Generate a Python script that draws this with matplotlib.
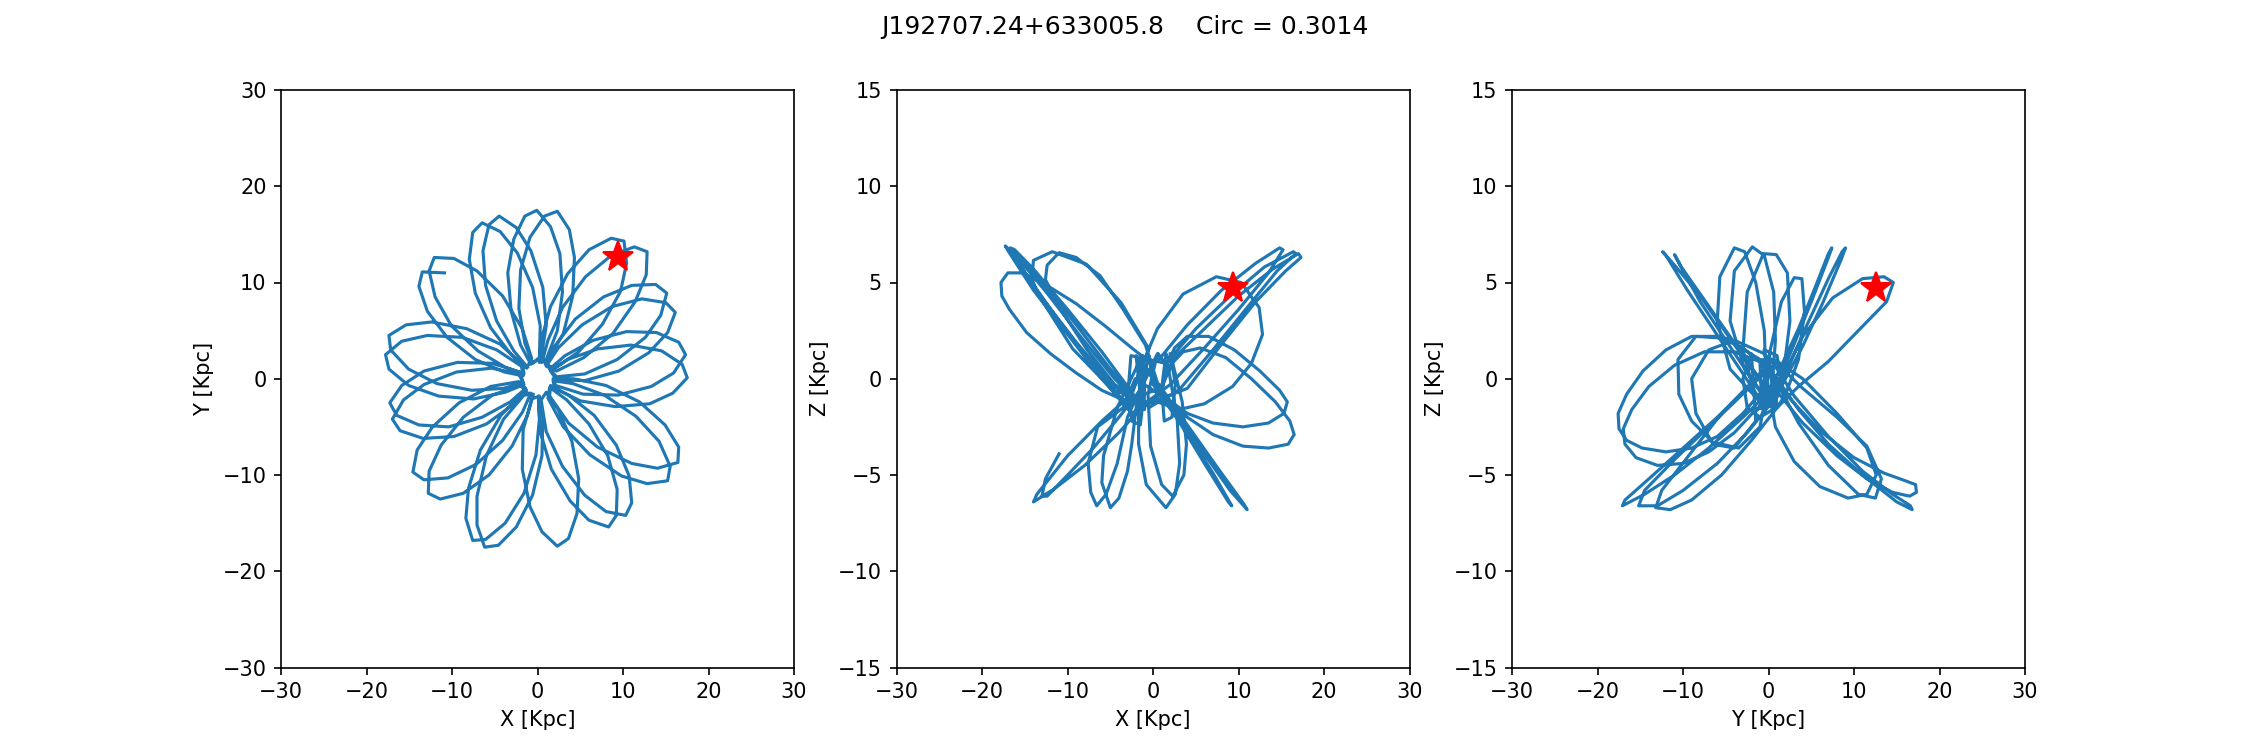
import matplotlib.pyplot as plt

name = 'J192707.24+633005.8'
circ = 0.3014

# position of the star (now)
star_x, star_y, star_z = 9.4, 12.6, 4.7

# orbit seen in X-Y, petal by petal (Kpc)
xy_x = [-10.9, -13.5, -13.9, -12.9, -10.6, -7.3, -3.9, -1.7,
        -1.9, -4.8, -8.8, -12.9, -15.9, -17.8, -17.4, -15.1, -11.6, -7.5, -3.8, -1.6,
        -2.2, -5.4, -9.5, -13.3, -15.7, -17.0, -16.1, -13.4, -9.8, -6.0, -2.9, -1.3,
        -2.1, -5.3, -8.7, -11.3, -12.7, -12.8, -11.4, -8.7, -5.7, -3.0, -1.2, -0.5,
        -1.6, -4.0, -6.0, -7.1, -7.1, -6.2, -4.6, -2.5, -0.6, 0.5, 0.6, 0.2,
        -0.7, -1.7, -1.8, -0.9, 0.5, 2.3, 3.6, 4.6, 4.8, 4.0, 2.4, 1.0,
        0.4, 1.0, 2.9, 5.5, 8.0, 10.3, 11.0, 10.7, 9.2, 6.6, 3.6, 1.5,
        1.4, 3.6, 7.0, 11.0, 14.0, 16.4, 16.5, 14.9, 11.9, 8.0, 4.2, 1.8,
        2.1, 5.3, 9.4, 13.3, 15.9, 17.3, 16.5, 13.9, 10.4, 6.5, 3.2, 1.4,
        2.2, 5.5, 9.3, 12.6, 14.4, 15.1, 13.8, 11.0, 7.7, 4.4, 2.0, 0.9,
        2.0, 4.8, 7.6, 9.7, 10.4, 10.1, 8.6, 6.0, 3.5, 1.5, 0.4, 0.2,
        1.0, 2.3, 2.9, 2.6, 1.5, -0.1, -1.5, -2.8, -3.5, -3.1, -2.0, -0.8,
        0.2, 0.3, -0.6, -2.4, -4.4, -6.5, -7.6, -8.0, -7.3, -5.5, -3.1, -1.3,
        -0.7, -1.8, -4.1, -7.1, -9.8, -12.1, -12.7, -12.0, -10.1, -7.0, -3.8, -1.6,
        -1.8, -4.4, -8.3, -12.4, -15.4, -17.4, -17.2, -15.1, -11.8, -7.7, -4.0, -1.7,
        -2.1, -5.3, -9.4, -13.3, -15.9, -17.3, -16.5, -13.9, -10.4, -6.5, -3.2, -1.4,
        -2.2, -5.5, -9.2, -12.3, -14.1, -14.6, -13.3, -10.5, -7.2, -4.1, -1.8, -0.8,
        -1.8, -4.3, -6.7, -8.1, -8.4, -7.6, -6.1, -3.8, -1.6, -0.2, 0.2, 0.1,
        0.1, 0.3, 1.6, 3.8, 6.0, 8.3, 9.2, 9.3, 8.2, 6.0, 3.4, 1.4,
        1.2, 3.0, 6.1, 9.8, 12.8, 15.2, 15.5, 14.2, 11.5, 7.8, 4.1, 1.8,
        2.0, 5.0, 9.1, 13.1, 15.8, 17.5, 16.9, 14.5, 10.9, 7.0, 3.5, 1.5,
        2.2, 5.5, 9.5, 13.0, 15.2, 16.1, 15.0, 12.2, 8.7, 5.2, 2.4, 1.0,
        2.2, 5.4, 8.8, 11.4, 12.7, 12.8, 11.3, 8.6, 5.6, 2.9, 1.2, 0.5,
        1.2, 3.0, 4.1, 4.3, 3.7, 2.3, 0.8, -0.9, -2.0, -2.2, -1.5, -0.6,
        0.4, 1.0, 0.6, -0.8, -2.5, -4.5, -5.7, -6.4, -6.1, -4.8, -2.8, -1.2]
xy_y = [11.0, 11.1, 9.6, 7.0, 4.3, 2.0, 0.7, 0.3,
        1.3, 3.0, 4.3, 4.5, 3.9, 2.5, 1.0, -0.7, -1.8, -2.1, -1.4, -0.6,
        0.5, 1.1, 0.7, -0.6, -2.2, -4.2, -5.4, -6.2, -6.0, -4.7, -2.7, -1.2,
        -0.7, -1.7, -4.0, -6.9, -9.6, -11.9, -12.5, -11.9, -10.0, -7.0, -3.8, -1.6,
        -1.7, -4.2, -8.0, -12.2, -15.2, -17.5, -17.3, -15.4, -12.1, -8.0, -4.1, -1.8,
        -2.1, -5.3, -9.4, -13.3, -15.9, -17.4, -16.6, -14.0, -10.4, -6.5, -3.2, -1.4,
        -2.2, -5.5, -9.1, -12.1, -13.8, -14.2, -12.9, -10.1, -6.9, -3.8, -1.7, -0.7,
        -1.8, -4.6, -7.1, -8.8, -9.3, -8.7, -7.1, -4.8, -2.4, -0.7, 0.0, 0.0,
        -0.7, -1.6, -1.7, -0.8, 0.6, 2.5, 3.8, 4.8, 4.9, 4.0, 2.4, 1.0,
        0.2, 0.5, 2.0, 4.3, 6.6, 8.9, 9.8, 9.7, 8.5, 6.2, 3.4, 1.5,
        1.1, 2.8, 5.7, 9.1, 12.0, 14.3, 14.6, 13.4, 10.9, 7.5, 4.0, 1.7,
        2.0, 5.0, 9.0, 13.0, 15.8, 17.5, 16.9, 14.5, 11.0, 7.0, 3.5, 1.5,
        2.2, 5.5, 9.5, 13.1, 15.3, 16.2, 15.2, 12.4, 8.9, 5.3, 2.5, 1.1,
        2.1, 5.2, 8.6, 11.2, 12.5, 12.6, 11.2, 8.5, 5.5, 2.9, 1.2, 0.5,
        1.5, 3.6, 5.2, 5.9, 5.6, 4.5, 3.0, 1.0, -0.5, -1.2, -1.0, -0.4,
        0.7, 1.6, 1.7, 0.8, -0.7, -2.5, -3.8, -4.8, -5.0, -4.0, -2.4, -1.0,
        -0.3, -0.8, -2.5, -5.0, -7.4, -9.7, -10.5, -10.3, -8.9, -6.4, -3.5, -1.5,
        -1.5, -3.8, -7.4, -11.4, -14.5, -16.8, -16.7, -15.0, -11.9, -7.9, -4.2, -1.8,
        -2.2, -5.5, -9.4, -12.7, -14.7, -15.4, -14.2, -11.5, -8.0, -4.7, -2.2, -0.9,
        -2.0, -5.0, -7.9, -10.1, -10.9, -10.6, -9.1, -6.5, -3.9, -1.7, -0.5, -0.2,
        -1.0, -2.3, -2.9, -2.6, -1.5, 0.1, 1.5, 2.9, 3.5, 3.1, 2.0, 0.8,
        -0.1, -0.2, 0.8, 2.7, 4.8, 6.9, 7.9, 8.3, 7.5, 5.6, 3.2, 1.3,
        0.8, 2.2, 4.7, 8.0, 10.8, 13.2, 13.7, 12.8, 10.6, 7.4, 4.0, 1.7,
        1.9, 4.7, 8.6, 12.6, 15.5, 17.4, 16.9, 14.7, 11.3, 7.3, 3.7, 1.6,
        2.2, 5.5, 9.5, 13.3, 15.7, 16.9, 16.0, 13.3, 9.7, 6.0, 2.9, 1.2]

# orbit seen in X-Z
xz_x = [-11.0, -12.6, -13.0, -12.4, -10.0, -7.0, -4.0, -1.5,
        -1.5, -5.0, -9.0, -13.0, -16.0, -17.3, -16.9, -14.0, -10.0, -6.0, -2.5,
        1.0, 1.5, 2.5, 4.0, 6.5, 9.5, 12.5, 14.8, 15.7, 15.3, 13.5, 10.5, 7.0, 4.0, 1.8,
        -2.1, -3.5, -6.5, -7.6, -7.3, -6.6, -5.5, -4.2, -3.0, -1.5,
        -1.0, 2.0, 6.0, 10.0, 13.5, 15.2, 14.8, 12.0, 8.0, 4.0, 0.5,
        -0.5, -2.5, -5.5, -9.0, -12.6, -15.3, -17.0, -17.8, -17.7, -16.8, -14.8, -12.0, -9.0, -6.0, -3.5, -1.5,
        -2.0, 1.0, 4.0, 7.0, 9.2, 8.8, 6.0, 3.0, 0.0,
        -0.5, -1.7, -1.7, -0.8, 1.5, 2.6, 3.1, 2.8, 1.8, 0.6,
        -2.0, -6.0, -10.0, -14.0, -16.2, -16.7, -15.0, -11.0, -7.0, -3.0,
        -1.5, 0.5, 3.5, 7.4, 10.3, 12.4, 12.8, 11.5, 9.3, 6.0, 3.0, 0.5,
        -1.0, -4.0, -8.0, -11.5, -14.0, -13.6, -10.0, -6.0, -2.5,
        -0.5, -3.75, -7.8, -11.8, -14.0, -14.2, -13.4, -9.4, -4.6, -1.8,
        1.0, 2.0, 3.5, 5.5, 8.5, 11.5, 14.3, 16.0, 16.5, 15.8, 13.5, 10.5, 7.0, 4.0, 1.5,
        -1.5, -4.2, -5.8, -6.0, -5.0, -4.0, -3.0, -2.5, -1.8,
        -0.5, 3.0, 7.0, 11.0, 14.5, 16.7, 16.4, 13.0, 9.0, 5.0, 1.5,
        -2.6, -2.9, -2.5, -1.5, -1.0, -1.2,
        -1.0, -4.5, -8.5, -12.5, -15.5, -16.8, -16.3, -13.0, -9.0, -5.0, -1.5,
        -1.5, 2.0, 5.5, 9.0, 11.0, 10.6, 7.5, 4.0, 0.5,
        -0.9, -3.5, -6.2, -9.0, -11.0, -12.4, -12.6, -10.5, -7.8, -4.5, -2.0,
        0.5, -0.6, -0.3, 1.0, 2.3, 3.6, 3.9, 3.4, 2.3,
        0.0, 4.0, 8.0, 12.0, 15.5, 17.3, 17.0, 14.0, 10.0, 6.0, 2.0,
        1.5, 1.0, 1.3, 2.2, 2.6, 2.0]
xz_z = [-3.9, -5.2, -6.1, -6.1, -5.0, -3.6, -2.0, -0.6,
        -1.3, 0.5, 2.8, 5.0, 6.4, 6.9, 6.6, 4.6, 2.3, 0.0, -1.8,
        -0.8, 0.6, 1.6, 2.2, 2.2, 1.5, 0.4, -0.6, -1.2, -1.8, -2.3, -2.5, -2.3, -1.8, -1.1,
        0.0, -1.5, -2.5, -4.4, -5.9, -6.6, -6.0, -4.4, -2.0, -0.5,
        -1.3, -0.3, 1.6, 3.6, 5.5, 6.7, 6.8, 6.0, 4.6, 2.8, 0.9,
        0.9, 1.6, 2.7, 3.9, 4.9, 5.5, 5.5, 5.0, 4.3, 3.6, 2.4, 1.3, 0.3, -0.6, -1.1, -0.8,
        1.2, -0.6, -2.8, -4.9, -6.6, -6.4, -4.4, -2.2, -0.3,
        1.2, -1.0, -3.4, -5.5, -6.7, -6.0, -4.4, -2.0, 0.5, 1.3,
        -1.0, 1.4, 3.6, 5.7, 6.7, 6.8, 5.5, 3.0, 0.7, -1.4,
        0.5, 2.6, 4.4, 5.3, 5.0, 3.7, 2.3, 0.8, -0.4, -1.3, -1.6, -1.2,
        -1.3, -2.8, -4.5, -5.7, -6.4, -6.0, -4.0, -2.2, -0.8,
        1.55, 3.95, 5.95, 6.6, 6.15, 5.2, 4.35, 1.55, -0.65, -0.9,
        -0.5, 0.7, 1.4, 1.6, 1.1, 0.0, -1.2, -2.2, -2.9, -3.4, -3.6, -3.5, -2.9, -2.0, -1.0,
        1.0, -1.5, -4.0, -5.4, -6.7, -6.2, -4.8, -3.4, -0.8,
        -1.5, -0.6, 1.5, 3.7, 5.6, 6.5, 6.6, 5.8, 4.3, 2.6, 0.8,
        1.2, -0.5, -2.2, -2.4, -0.5, 1.2,
        -1.6, 0.0, 2.2, 4.5, 6.1, 6.75, 6.4, 4.2, 1.9, -0.2, -1.5,
        1.0, -1.2, -3.6, -5.8, -6.8, -6.5, -4.6, -2.4, -0.2,
        1.75, 3.6, 5.35, 6.3, 6.55, 5.9, 5.15, 3.4, 1.55, -0.3, -1.0,
        1.3, -0.8, -3.5, -5.5, -6.1, -5.0, -3.4, -1.2, 0.8,
        -1.2, -0.5, 1.8, 4.0, 5.6, 6.3, 6.5, 5.7, 4.3, 2.6, 0.9,
        1.3, -0.5, -2.2, -2.0, -0.3, 1.3]

# orbit seen in Y-Z
yz_y = [0.5, -2.0, -5.0, -8.0, -11.0, -12.4, -12.0, -9.5, -6.5, -3.5, -0.8,
        -1.0, -4.5, -6.0, -5.7, -4.0, -2.8, -1.5, -0.5, -0.3, -0.8,
        -1.0, 2.0, 6.0, 10.0, 13.5, 16.0, 17.2, 17.3, 16.5, 14.5, 11.5, 8.0, 4.0, 0.5,
        0.0, -3.0, -6.0, -9.0, -12.0, -14.7, -16.6, -17.6, -17.5, -16.6, -14.8, -12.0, -9.0, -6.0, -3.0, -0.5,
        -1.0, 1.0, 3.5, 5.5, 7.0, 7.4, 7.0, 5.0, 3.0, 1.0,
        0.5, -3.0, -7.0, -11.0, -14.5, -17.1, -16.8, -14.0, -10.0, -6.0, -2.5,
        0.0, -2.8, -4.5, -4.0, -1.9, -0.5, 0.6, 0.8, 0.4,
        -1.5, 1.0, 4.0, 7.5, 11.0, 13.5, 14.6, 13.8, 10.5, 7.0, 3.5, 1.0,
        0.0, 3.0, 7.0, 11.0, 14.5, 16.6, 16.8, 15.0, 11.0, 7.0, 3.5, 1.0,
        -0.5, -4.0, -7.5, -11.0, -14.0, -16.0, -17.0, -16.8, -15.5, -13.0, -10.0, -7.0, -4.0, -1.5,
        1.0, -2.0, -5.0, -8.0, -10.2, -11.0, -10.6, -8.0, -5.0, -2.0, 0.5,
        -1.5, -3.0, -2.5, -0.6, 0.9, 2.2, 2.5, 1.8, 0.5,
        0.8, -2.5, -6.0, -10.0, -13.0, -15.2, -14.5, -11.0, -7.0, -3.5, -0.5,
        -0.5, 2.0, 4.5, 7.0, 8.6, 9.0, 8.5, 6.3, 4.0, 1.5,
        -0.5, 0.8, 3.0, 6.0, 9.3, 11.5, 12.6, 11.5, 8.0, 4.0, 1.0,
        -1.0, -5.0, -8.5, -10.6, -10.5, -9.0, -6.5, -3.5, -1.0,
        -0.5, 0.2, 1.5, 3.0, 3.9, 4.2, 3.5, 2.0,
        1.0, -2.0, -5.5, -9.0, -11.5, -13.2, -12.5, -9.0, -5.5, -2.0,
        0.5, 4.0, 8.0, 11.5, 13.2, 12.5, 10.5, 7.0, 3.5, 1.0,
        -0.5, -4.0, -7.0, -9.0, -8.5, -6.5, -4.0, -1.5,
        -2.0, -3.0, -2.5, -1.0, 0.5, 1.5, 1.0, -0.5]
yz_z = [-1.0, 0.5, 2.4, 4.3, 5.9, 6.6, 6.4, 4.6, 2.6, 0.6, -1.2,
        -1.2, 0.5, 3.0, 5.3, 6.8, 6.6, 5.0, 2.5, 0.0, -1.4,
        0.8, -0.8, -2.7, -4.1, -4.9, -5.3, -5.5, -5.9, -6.1, -5.9, -5.2, -4.0, -2.3, -0.4,
        0.5, 1.6, 2.2, 2.2, 1.5, 0.4, -0.8, -1.8, -2.6, -3.2, -3.6, -3.8, -3.6, -3.0, -1.8, -0.5,
        -1.5, 0.2, 2.6, 4.8, 6.5, 6.8, 6.3, 4.0, 1.8, -0.3,
        -0.5, -2.0, -3.6, -5.0, -6.0, -6.6, -6.3, -5.2, -3.6, -2.0, -0.5,
        -1.3, 0.5, 3.0, 5.6, 6.85, 6.4, 4.5, 2.0, -0.5,
        -1.7, -0.5, 2.2, 4.2, 5.2, 5.3, 5.0, 4.0, 2.5, 0.9, -0.4, -1.5,
        1.2, -0.9, -3.0, -4.8, -6.0, -6.6, -6.8, -6.4, -5.0, -3.4, -1.6, 0.0,
        0.8, 1.4, 1.4, 0.7, -0.4, -1.6, -2.6, -3.4, -4.1, -4.5, -4.4, -3.8, -2.8, -1.6,
        -1.3, 0.6, 2.5, 4.4, 5.8, 6.45, 6.1, 4.0, 2.0, 0.0, -1.5,
        -1.0, 1.5, 4.5, 6.5, 6.45, 5.5, 3.0, 0.5, -1.2,
        -1.0, -2.8, -4.4, -5.8, -6.6, -6.6, -5.8, -4.2, -2.5, -1.0, 0.3,
        -1.6, 0.3, 2.8, 5.2, 6.6, 6.8, 6.2, 3.9, 1.7, -0.4,
        0.8, -2.5, -4.3, -5.6, -6.2, -6.0, -5.0, -3.6, -1.8, 0.0, 0.9,
        1.0, 2.1, 2.2, 1.0, -0.8, -2.2, -3.3, -3.6, -2.5,
        -1.3, 1.5, 4.0, 5.25, 5.2, 3.5, 1.0, -0.8,
        -1.5, -3.2, -5.0, -6.3, -6.8, -6.7, -5.8, -3.8, -1.8, -0.2,
        1.0, -0.5, -2.0, -3.5, -5.2, -6.2, -6.0, -4.5, -2.3, -0.2,
        1.3, 2.0, 1.5, 0.0, -1.8, -3.4, -3.6, -2.2,
        1.3, 0.0, -1.5, -2.0, -1.6, -0.3, 1.2, 1.5]

fig, axs = plt.subplots(1, 3, figsize=(15, 5))

axs[0].plot(xy_x, xy_y)
axs[0].plot(star_x, star_y, 'r*', markersize=15)
axs[0].set_xlim(-30, 30)
axs[0].set_ylim(-30, 30)
axs[0].set_xlabel('X [Kpc]')
axs[0].set_ylabel('Y [Kpc]')

axs[1].plot(xz_x, xz_z)
axs[1].plot(star_x, star_z, 'r*', markersize=15)
axs[1].set_xlim(-30, 30)
axs[1].set_ylim(-15, 15)
axs[1].set_xlabel('X [Kpc]')
axs[1].set_ylabel('Z [Kpc]')

axs[2].plot(yz_y, yz_z)
axs[2].plot(star_y, star_z, 'r*', markersize=15)
axs[2].set_xlim(-30, 30)
axs[2].set_ylim(-15, 15)
axs[2].set_xlabel('Y [Kpc]')
axs[2].set_ylabel('Z [Kpc]')

fig.suptitle(name + '    Circ = ' + str(circ))
fig.savefig('out.png', dpi=150)
